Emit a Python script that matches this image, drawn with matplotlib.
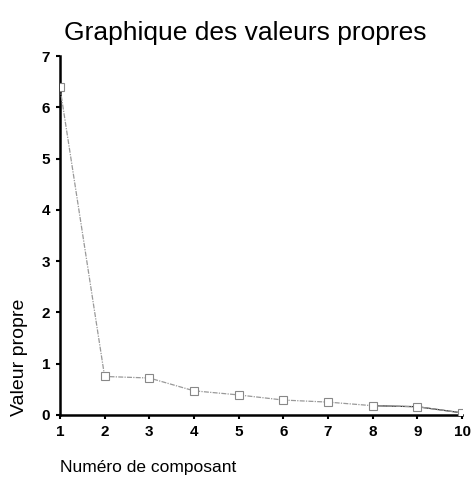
import matplotlib.pyplot as plt

plt.rcParams['font.family'] = ['Liberation Sans', 'DejaVu Sans']

# Eigenvalues
composants = [1, 2, 3, 4, 5, 6, 7, 8, 9, 10]
valeurs = [6.39, 0.75, 0.72, 0.47, 0.39, 0.29, 0.25, 0.18, 0.16, 0.04]
yticks = [0, 1, 2, 3, 4, 5, 6, 7]

fig = plt.figure(figsize=(4.72, 4.87), dpi=100)
ax = fig.add_axes([0.127, 0.148, 0.852, 0.737])

ax.plot(composants, valeurs, color='#999999', linewidth=0.9, linestyle=(0, (4, 1, 1, 1)),
        marker='s', markersize=6, markerfacecolor='white', markeredgecolor='#888888',
        markeredgewidth=0.8, zorder=3)
# darker tail as in the scan
ax.plot(composants[7:], valeurs[7:], color='#333333', linewidth=0.9, zorder=2)

ax.set_xlim(1, 10)
ax.set_ylim(0, 7)
ax.set_xticks(composants)
ax.set_yticks(yticks)
ax.tick_params(direction='out', length=3, width=1.5, labelsize=11, pad=4)
for lab in ax.get_xticklabels() + ax.get_yticklabels():
    lab.set_fontweight('bold')

for s in ['top', 'right']:
    ax.spines[s].set_visible(False)
ax.spines['left'].set_linewidth(1.8)
ax.spines['bottom'].set_linewidth(1.8)

fig.text(0.52, 0.932, 'Graphique des valeurs propres', ha='center', va='center', fontsize=19)
ax.set_ylabel('Valeur propre', fontsize=14)
ax.yaxis.set_label_coords(-0.08, 0.16)
fig.text(0.127, 0.04, 'Numéro de composant', ha='left', va='center', fontsize=12.5)

plt.savefig('out.png', dpi=100)
